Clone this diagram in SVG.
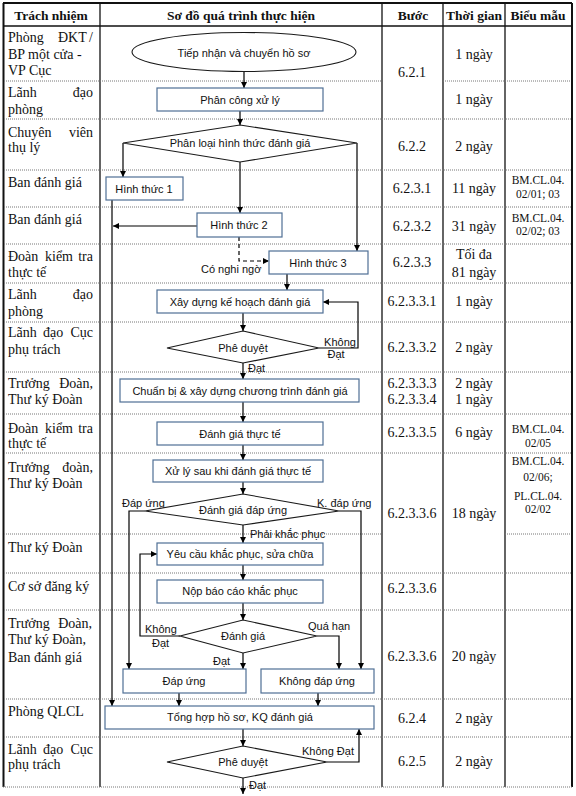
<svg xmlns="http://www.w3.org/2000/svg" width="576" height="796" viewBox="0 0 576 796">
<style>
.bg{fill:#fff}
.g{stroke:#111;stroke-width:1.3;fill:none}
.gb{stroke:#111;stroke-width:2;fill:none}
.dt{stroke:#777;stroke-width:1;stroke-dasharray:1 1;fill:none}
.b{fill:#fff;stroke:#4f6f95;stroke-width:1.2}
.d{fill:#fff;stroke:#1a1a1a;stroke-width:1.1}
.c{fill:none;stroke:#000;stroke-width:1.2}
.t{font-family:"Liberation Sans",Arial,sans-serif;font-size:11px;fill:#111;text-anchor:middle}
.l{font-family:"Liberation Sans",Arial,sans-serif;font-size:11px;fill:#111}
.s{font-family:"Liberation Serif","Times New Roman",serif;font-size:14px;fill:#111}
.h{font-family:"Liberation Serif","Times New Roman",serif;font-size:13.5px;font-weight:bold;fill:#111;text-anchor:middle}
.m{text-anchor:middle}
.e{text-anchor:end}
.f{font-family:"Liberation Serif","Times New Roman",serif;font-size:11.5px;fill:#111;text-anchor:middle}
</style>
<defs>
<marker id="a" viewBox="0 0 10 10" refX="10" refY="5" markerUnits="userSpaceOnUse" markerWidth="7" markerHeight="6" orient="auto">
<path d="M0,0 L10,5 L0,10 z" fill="#000"/>
</marker>
</defs>
<rect class="bg" x="0" y="0" width="576" height="796"/>

<g id="table">
<line class="gb" x1="3" y1="3" x2="572" y2="3"/>
<line class="gb" x1="3.5" y1="3" x2="3.5" y2="787"/>
<line class="gb" x1="572" y1="3" x2="572" y2="787"/>
<line class="g" x1="3" y1="26" x2="572" y2="26"/>
<line class="g" x1="100" y1="3" x2="100" y2="787"/>
<line class="g" x1="382" y1="3" x2="382" y2="787"/>
<line class="g" x1="443" y1="3" x2="443" y2="787"/>
<line class="g" x1="505" y1="3" x2="505" y2="787"/>
<path class="dt" d="M4,81 H382 M443,81 H571 M4,119 H571 M4,170 H571 M4,207 H571 M4,244 H571 M4,283 H571 M4,322 H571 M4,372 H571 M4,414 H571 M4,453 H571 M4,534 H382 M505,534 H571 M4,573 H571 M4,610 H571 M4,699 H571 M4,737 H571 M3,787 H573"/>

<text class="h" x="51" y="20">Trách nhiệm</text>
<text class="h" x="241" y="20">Sơ đồ quá trình thực hiện</text>
<text class="h" x="413" y="20">Bước</text>
<text class="h" x="474" y="20">Thời gian</text>
<text class="h" x="538" y="20">Biểu mẫu</text>

<text class="s" x="8" y="42">Phòng</text><text class="s" x="58" y="42">ĐKT</text><text class="s e" x="93" y="42">/</text>
<text class="s" x="8" y="59">BP một cửa -</text>
<text class="s" x="8" y="75">VP Cục</text>
<text class="s" x="8" y="97">Lãnh</text><text class="s e" x="93" y="97">đạo</text>
<text class="s" x="8" y="114">phòng</text>
<text class="s" x="8" y="137">Chuyên</text><text class="s e" x="93" y="137">viên</text>
<text class="s" x="8" y="152">thụ lý</text>
<text class="s" x="8" y="187">Ban đánh giá</text>
<text class="s" x="8" y="224">Ban đánh giá</text>
<text class="s" x="8" y="261">Đoàn</text><text class="s" x="45" y="261">kiểm</text><text class="s e" x="93" y="261">tra</text>
<text class="s" x="8" y="277">thực tế</text>
<text class="s" x="8" y="299">Lãnh</text><text class="s e" x="93" y="299">đạo</text>
<text class="s" x="8" y="316">phòng</text>
<text class="s" x="8" y="337">Lãnh</text><text class="s" x="43" y="337">đạo</text><text class="s e" x="93" y="337">Cục</text>
<text class="s" x="8" y="354">phụ trách</text>
<text class="s" x="8" y="388">Trưởng</text><text class="s e" x="93" y="388">Đoàn,</text>
<text class="s" x="8" y="404">Thư ký Đoàn</text>
<text class="s" x="8" y="433">Đoàn</text><text class="s" x="45" y="433">kiểm</text><text class="s e" x="93" y="433">tra</text>
<text class="s" x="8" y="448">thực tế</text>
<text class="s" x="8" y="472">Trưởng</text><text class="s e" x="93" y="472">đoàn,</text>
<text class="s" x="8" y="488">Thư ký Đoàn</text>
<text class="s" x="8" y="552">Thư ký Đoàn</text>
<text class="s" x="8" y="591">Cơ sở đăng ký</text>
<text class="s" x="8" y="628">Trưởng</text><text class="s e" x="92" y="628">Đoàn,</text>
<text class="s" x="8" y="644">Thư ký Đoàn,</text>
<text class="s" x="8" y="662">Ban đánh giá</text>
<text class="s" x="8" y="716">Phòng QLCL</text>
<text class="s" x="8" y="754">Lãnh</text><text class="s" x="43" y="754">đạo</text><text class="s e" x="93" y="754">Cục</text>
<text class="s" x="8" y="769">phụ trách</text>

<text class="s m" x="412" y="77">6.2.1</text>
<text class="s m" x="412" y="151">6.2.2</text>
<text class="s m" x="412" y="193">6.2.3.1</text>
<text class="s m" x="412" y="231">6.2.3.2</text>
<text class="s m" x="412" y="267">6.2.3.3</text>
<text class="s m" x="412" y="306">6.2.3.3.1</text>
<text class="s m" x="412" y="352">6.2.3.3.2</text>
<text class="s m" x="412" y="388">6.2.3.3.3</text>
<text class="s m" x="412" y="404">6.2.3.3.4</text>
<text class="s m" x="412" y="437">6.2.3.3.5</text>
<text class="s m" x="412" y="518">6.2.3.3.6</text>
<text class="s m" x="412" y="593">6.2.3.3.6</text>
<text class="s m" x="412" y="661">6.2.3.3.6</text>
<text class="s m" x="412" y="723">6.2.4</text>
<text class="s m" x="412" y="766">6.2.5</text>

<text class="s m" x="474" y="59">1 ngày</text>
<text class="s m" x="474" y="104">1 ngày</text>
<text class="s m" x="474" y="151">2 ngày</text>
<text class="s m" x="474" y="193">11 ngày</text>
<text class="s m" x="474" y="231">31 ngày</text>
<text class="s m" x="474" y="259">Tối đa</text>
<text class="s m" x="474" y="277">81 ngày</text>
<text class="s m" x="474" y="306">1 ngày</text>
<text class="s m" x="474" y="352">2 ngày</text>
<text class="s m" x="474" y="388">2 ngày</text>
<text class="s m" x="474" y="404">1 ngày</text>
<text class="s m" x="474" y="437">6 ngày</text>
<text class="s m" x="474" y="518">18 ngày</text>
<text class="s m" x="474" y="661">20 ngày</text>
<text class="s m" x="474" y="723">2 ngày</text>
<text class="s m" x="474" y="766">2 ngày</text>

<text class="f" x="538" y="184">BM.CL.04.</text>
<text class="f" x="538" y="198">02/01; 03</text>
<text class="f" x="538" y="222">BM.CL.04.</text>
<text class="f" x="538" y="235">02/02; 03</text>
<text class="f" x="538" y="433">BM.CL.04.</text>
<text class="f" x="538" y="447">02/05</text>
<text class="f" x="538" y="465">BM.CL.04.</text>
<text class="f" x="538" y="481">02/06;</text>
<text class="f" x="538" y="500">PL.CL.04.</text>
<text class="f" x="538" y="513">02/02</text>
</g>

<g id="connectors">
<path class="c" marker-end="url(#a)" d="M244,72 V88"/>
<path class="c" marker-end="url(#a)" d="M240,111 V125"/>
<path class="c" marker-end="url(#a)" d="M123,143 V177"/>
<path class="c" marker-end="url(#a)" d="M240,162 V213"/>
<path class="c" marker-end="url(#a)" d="M357,143 V251"/>
<path class="c" marker-end="url(#a)" d="M197,226 H113"/>
<path class="c" marker-end="url(#a)" d="M112,200 V706"/>
<path class="c" marker-end="url(#a)" stroke-dasharray="4 3" d="M239,237 V261 H269"/>
<path class="c" marker-end="url(#a)" d="M287,274 V290"/>
<path class="c" marker-end="url(#a)" d="M243,313 V331"/>
<path class="c" marker-end="url(#a)" d="M319,348 H358 V302 H323"/>
<path class="c" marker-end="url(#a)" d="M243,363 V379"/>
<path class="c" marker-end="url(#a)" d="M243,402 V422"/>
<path class="c" marker-end="url(#a)" d="M243,445 V460"/>
<path class="c" marker-end="url(#a)" d="M243,482 V494"/>
<path class="c" marker-end="url(#a)" d="M145,511 H129 V669"/>
<path class="c" marker-end="url(#a)" d="M339,511 H361 V669"/>
<path class="c" marker-end="url(#a)" d="M243,525 V543"/>
<path class="c" marker-end="url(#a)" d="M243,565 V580"/>
<path class="c" marker-end="url(#a)" d="M243,603 V620"/>
<path class="c" marker-end="url(#a)" d="M180,636 H140 V554 H157"/>
<path class="c" marker-end="url(#a)" d="M317,636 H339 V669"/>
<path class="c" marker-end="url(#a)" d="M243,653 V669"/>
<path class="c" marker-end="url(#a)" d="M179,693 V706"/>
<path class="c" marker-end="url(#a)" d="M318,693 V706"/>
<path class="c" marker-end="url(#a)" d="M243,729 V746"/>
<path class="c" marker-end="url(#a)" d="M327,762 H359 V729"/>
<path class="c" marker-end="url(#a)" d="M243,778 V794"/>
<text class="l" x="201" y="273">Có nghi ngờ</text>
<text class="t" x="340" y="346">Không</text>
<text class="t" x="336" y="358">Đạt</text>
<text class="l" x="248" y="372">Đạt</text>
<text class="l" x="122" y="507">Đáp ứng</text>
<text class="l" x="317" y="507">K. đáp ứng</text>
<text class="l" x="250" y="538">Phải khắc phục</text>
<text class="l" x="145" y="633">Không</text>
<text class="l" x="152" y="647">Đạt</text>
<text class="l" x="308" y="630">Quá hạn</text>
<text class="l" x="213" y="665">Đạt</text>
<text class="l" x="302" y="755">Không Đạt</text>
<text class="l" x="249" y="789">Đạt</text>
</g>

<g id="n1"><ellipse class="d" cx="244" cy="52" rx="112" ry="19.5"/><text class="t" x="244" y="57">Tiếp nhận và chuyển hồ sơ</text></g>
<g id="n2"><rect class="b" x="157" y="88" width="166" height="23"/><text class="t" x="240" y="104">Phân công xử lý</text></g>
<g id="n3"><polygon class="d" points="240,125 357,143 240,162 123,143"/><text class="t" x="240" y="147">Phân loại hình thức đánh giá</text></g>
<g id="n4"><rect class="b" x="106" y="177" width="77" height="23"/><text class="t" x="144" y="193">Hình thức 1</text></g>
<g id="n5"><rect class="b" x="197" y="213" width="85" height="24"/><text class="t" x="239" y="229">Hình thức 2</text></g>
<g id="n6"><rect class="b" x="269" y="251" width="99" height="23"/><text class="t" x="318" y="267">Hình thức 3</text></g>
<g id="n7"><rect class="b" x="157" y="290" width="166" height="23"/><text class="t" x="240" y="306">Xây dựng kế hoạch đánh giá</text></g>
<g id="n8"><polygon class="d" points="243,331 319,348 243,363 167,348"/><text class="t" x="243" y="352">Phê duyệt</text></g>
<g id="n9"><rect class="b" x="120" y="379" width="239" height="23"/><text class="t" x="240" y="395">Chuẩn bị &amp; xây dựng chương trình đánh giá</text></g>
<g id="n10"><rect class="b" x="157" y="422" width="166" height="23"/><text class="t" x="240" y="438">Đánh giá thực tế</text></g>
<g id="n11"><rect class="b" x="153" y="460" width="170" height="22"/><text class="t" x="238" y="475">Xử lý sau khi đánh giá thực tế</text></g>
<g id="n12"><polygon class="d" points="243,494 339,511 243,525 145,511"/><text class="t" x="243" y="514">Đánh giá đáp ứng</text></g>
<g id="n13"><rect class="b" x="157" y="543" width="166" height="22"/><text class="t" x="240" y="558">Yêu cầu khắc phục, sửa chữa</text></g>
<g id="n14"><rect class="b" x="157" y="580" width="166" height="23"/><text class="t" x="240" y="595">Nộp báo cáo khắc phục</text></g>
<g id="n15"><polygon class="d" points="243,620 317,636 243,653 180,636"/><text class="t" x="243" y="640">Đánh giá</text></g>
<g id="n16"><rect class="b" x="123" y="669" width="123" height="24"/><text class="t" x="184" y="685">Đáp ứng</text></g>
<g id="n17"><rect class="b" x="261" y="669" width="113" height="24"/><text class="t" x="317" y="685">Không đáp ứng</text></g>
<g id="n18"><rect class="b" x="105" y="706" width="269" height="23"/><text class="t" x="240" y="721">Tổng hợp hồ sơ, KQ đánh giá</text></g>
<g id="n19"><polygon class="d" points="243,746 327,762 243,778 167,762"/><text class="t" x="243" y="766">Phê duyệt</text></g>
</svg>
